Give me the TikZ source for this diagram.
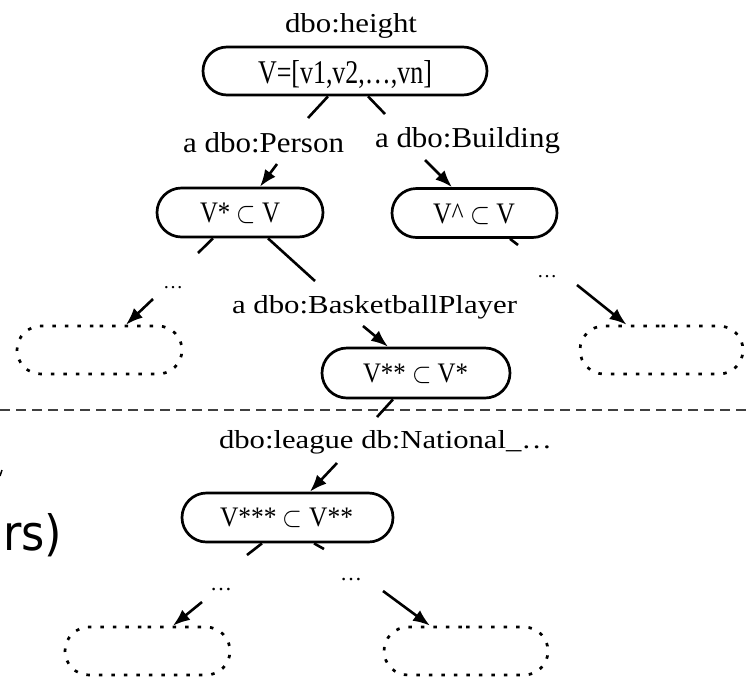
\documentclass[tikz,border=0pt]{standalone}
\usepackage{fontspec}
\setmainfont{Liberation Serif}
\newfontfamily\dejavu{DejaVu Sans}
\usepackage{graphicx}
\usetikzlibrary{shapes.misc,arrows.meta}
\newcommand{\fitt}[3]{\resizebox{#1pt}{#2pt}{#3}}
\tikzset{
  stadium/.style={rounded rectangle, draw, line width=2.7pt, inner sep=0pt},
  dotbox/.style={rounded rectangle, draw, line width=2.7pt, dash pattern=on 3.5pt off 9pt, inner sep=0pt},
  txt/.style={anchor=base west, inner sep=0pt, outer sep=0pt},
  edge/.style={line width=2.6pt},
  arr/.style={line width=2.6pt, -{Latex[length=17pt,width=13pt]}},
  sepline/.style={line width=1.3pt, dash pattern=on 10pt off 6pt, black!75},
}
\begin{document}
\begin{tikzpicture}[x=1pt,y=-1pt]
\useasboundingbox (0,0) rectangle (746,678);
% separator
\coordinate (hl) at (0,410);
\coordinate (hr) at (746,410);
\draw[sepline] (hl) -- (hr);
% shapes
\node[stadium, minimum width=284pt, minimum height=48pt] (root) at (345,71) {};
\node[stadium, minimum width=166pt, minimum height=49pt] (vs) at (240,212.5) {};
\node[stadium, minimum width=165pt, minimum height=49pt] (vh) at (474.5,213) {};
\node[stadium, minimum width=188pt, minimum height=50pt] (vss) at (416,373) {};
\node[stadium, minimum width=211pt, minimum height=49pt] (vsss) at (287.5,517.5) {};
\node[dotbox, minimum width=165pt, minimum height=48pt] (dl) at (99.5,350) {};
\node[dotbox, minimum width=163pt, minimum height=48pt] (dr) at (661.5,350) {};
\node[dotbox, minimum width=165pt, minimum height=48pt] (dbl) at (147.5,651) {};
\node[dotbox, minimum width=164pt, minimum height=48pt] (dbr) at (466,651) {};
% texts
\node[txt] (tH) at (285,32) {\fitt{132}{19}{dbo:height}};
\node[txt] (tR) at (258,83) {\fitt{174}{23}{V=[v1,v2,…,vn]}};
\node[txt] (lP) at (183,152) {\fitt{161}{20}{a dbo:Person}};
\node[txt] (lB) at (375,147) {\fitt{185}{20}{a dbo:Building}};
\node[txt] (tVs) at (200,222) {\fitt{80}{19.5}{V* $\subset$ V}};
\node[txt] (tVh) at (433,223) {\fitt{82}{19.5}{V\textasciicircum{} $\subset$ V}};
\node[txt] (lBP) at (232,313) {\fitt{285}{18}{a dbo:BasketballPlayer}};
\node[txt] (tVss) at (363,382) {\fitt{105}{18.5}{V** $\subset$ V*}};
\node[txt] (lL) at (219,448) {\fitt{333}{18}{dbo:league db:National\_…}};
\node[txt] (tVsss) at (220,526) {\fitt{133}{18.5}{V*** $\subset$ V**}};
\node[txt] (d1) at (163,288) {\resizebox{20pt}{!}{…}};
\node[txt] (d2) at (537,277) {\resizebox{20pt}{!}{…}};
\node[txt] (d3) at (210,590) {\resizebox{22pt}{!}{…}};
\node[txt] (d4) at (340,580) {\resizebox{22pt}{!}{…}};
\node[txt] (rs) at (3,550) {\fitt{59}{37}{\dejavu rs)}};
% connectors
\coordinate (pA) at (308,118);
\draw[edge] ([xshift=-17pt]root.south) -- (pA);
\coordinate (pB) at (385,114);
\draw[edge] ([xshift=23pt]root.south) -- (pB);
\coordinate (pC) at (277,164);
\draw[arr] (pC) -- ([xshift=20pt]vs.north);
\coordinate (pD) at (425,160);
\draw[arr] (pD) -- ([xshift=-22.5pt]vh.north);
\coordinate (pE) at (198,253);
\draw[edge] ([xshift=-27pt]vs.south) -- (pE);
\coordinate (pF) at (315,281);
\draw[edge] ([xshift=28pt]vs.south) -- (pF);
\coordinate (pG) at (153,299);
\draw[arr] (pG) -- ([xshift=26.5pt]dl.north);
\coordinate (pH) at (518,245);
\draw[edge] ([xshift=35.5pt]vh.south) -- (pH);
\coordinate (pI) at (577,285);
\draw[arr] (pI) -- ([xshift=-35pt]dr.north);
\coordinate (pJ) at (363,326);
\draw[arr] (pJ) -- ([xshift=-28pt]vss.north);
\coordinate (pK) at (377,417);
\draw[edge] ([xshift=-23pt]vss.south) -- (pK);
\coordinate (pL) at (337,463);
\draw[arr] (pL) -- ([xshift=22.5pt]vsss.north);
\coordinate (pM) at (247,555);
\draw[edge] ([xshift=-25.5pt]vsss.south) -- (pM);
\coordinate (pN) at (324,549);
\draw[edge] ([xshift=26.5pt]vsss.south) -- (pN);
\coordinate (pO) at (202,602);
\draw[arr] (pO) -- ([xshift=25.5pt]dbl.north);
\coordinate (pP) at (383,591);
\draw[arr] (pP) -- ([xshift=-36pt]dbr.north);
% small fragment at left edge
\coordinate (fa) at (0,476);
\coordinate (fb) at (2,470);
\draw[line width=1.5pt] (fa) -- (fb);
\end{tikzpicture}
\end{document}
